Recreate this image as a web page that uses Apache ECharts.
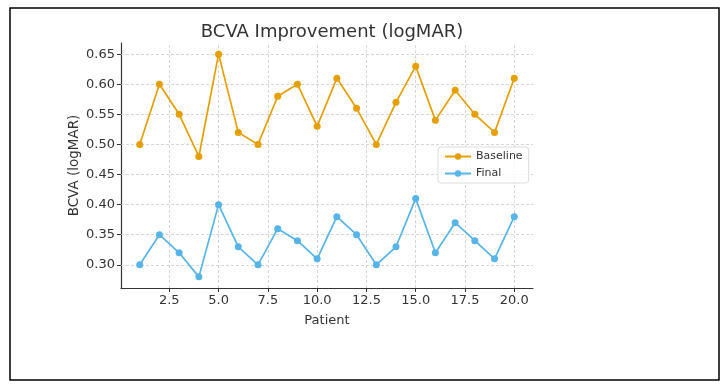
<!DOCTYPE html>
<html>
<head>
<meta charset="utf-8">
<script src="https://cdn.jsdelivr.net/npm/echarts@6/dist/echarts.min.js"></script>
<style>
html,body{margin:0;padding:0;background:#fff;}
#chart{width:726px;height:390px;}
</style>
</head>
<body>
<div id="chart"></div>
<script>
var patients = [1,2,3,4,5,6,7,8,9,10,11,12,13,14,15,16,17,18,19,20];
var baseline = [0.50,0.60,0.55,0.48,0.65,0.52,0.50,0.58,0.60,0.53,0.61,0.56,0.50,0.57,0.63,0.54,0.59,0.55,0.52,0.61];
var finalV = [0.30,0.35,0.32,0.28,0.40,0.33,0.30,0.36,0.34,0.31,0.38,0.35,0.30,0.33,0.41,0.32,0.37,0.34,0.31,0.38];
var xTicks = [2.5,5.0,7.5,10.0,12.5,15.0,17.5,20.0];
var yTicks = [0.30,0.35,0.40,0.45,0.50,0.55,0.60,0.65];

var chart = echarts.init(document.getElementById('chart'));
var font = 'DejaVu Sans';
var gridStyle = {color:'#cccccc', width:0.8, type:[3,2]};

function pairs(ys){ return patients.map(function(p,i){ return [p, ys[i]]; }); }

var vLines = xTicks.map(function(v){ return {xAxis: v}; });
var hLines = yTicks.map(function(v){ return {yAxis: v}; });

var option = {
  animation:false,
  backgroundColor:'#ffffff',
  title:{
    text:'BCVA Improvement (logMAR)',
    left:327, top:18, textAlign:'center',
    textStyle:{fontFamily:font, fontSize:18, fontWeight:'normal', color:'#333333'}
  },
  grid:{left:121, right:193, top:43, bottom:102, containLabel:false},
  legend:{
    data:['Baseline','Final'],
    orient:'vertical',
    left:438, top:147,
    itemWidth:26, itemHeight:8, itemGap:6,
    padding:[4,6,4,6],
    backgroundColor:'rgba(255,255,255,0.8)',
    borderColor:'#dddddd', borderWidth:1, borderRadius:3,
    textStyle:{fontFamily:font, fontSize:11, color:'#333333'}
  },
  xAxis:{
    type:'value', min:0.05, max:20.95,
    name:'Patient', nameLocation:'middle', nameGap:26,
    nameTextStyle:{fontFamily:font, fontSize:13, color:'#333333'},
    axisLine:{show:true, onZero:false, lineStyle:{color:'#333333', width:1.2}},
    axisTick:{show:true, length:4, inside:false, customValues:xTicks, lineStyle:{color:'#333333'}},
    axisLabel:{fontFamily:font, fontSize:13, color:'#333333', margin:6, customValues:xTicks,
      formatter:function(v){ return v.toFixed(1); }},
    splitLine:{show:false}
  },
  yAxis:{
    type:'value', min:0.2615, max:0.6685,
    name:'BCVA (logMAR)', nameLocation:'middle', nameGap:40, nameMoveOverlap:false,
    nameTextStyle:{fontFamily:font, fontSize:13.5, color:'#333333'},
    axisLine:{show:true, onZero:false, lineStyle:{color:'#333333', width:1.2}},
    axisTick:{show:true, length:4, inside:false, customValues:yTicks, lineStyle:{color:'#333333'}},
    axisLabel:{fontFamily:font, fontSize:13, color:'#333333', margin:6, customValues:yTicks,
      formatter:function(v){ return v.toFixed(2); }},
    splitLine:{show:false}
  },
  series:[
    {
      name:'Baseline', type:'line', data:pairs(baseline),
      symbol:'circle', symbolSize:7,
      lineStyle:{color:'#E69F00', width:1.7},
      itemStyle:{color:'#E69F00'},
      z:3,
      markLine:{
        silent:true, symbol:['none','none'], label:{show:false},
        lineStyle:gridStyle, z:1,
        data: vLines.concat(hLines)
      }
    },
    {
      name:'Final', type:'line', data:pairs(finalV),
      symbol:'circle', symbolSize:7,
      lineStyle:{color:'#56B4E9', width:1.7},
      itemStyle:{color:'#56B4E9'},
      z:3
    }
  ],
  graphic:[
    {type:'rect', shape:{x:10, y:8, width:709, height:372},
     style:{fill:'none', stroke:'#000000', lineWidth:1.5}, silent:true, z:100}
  ]
};
chart.setOption(option);
</script>
</body>
</html>
